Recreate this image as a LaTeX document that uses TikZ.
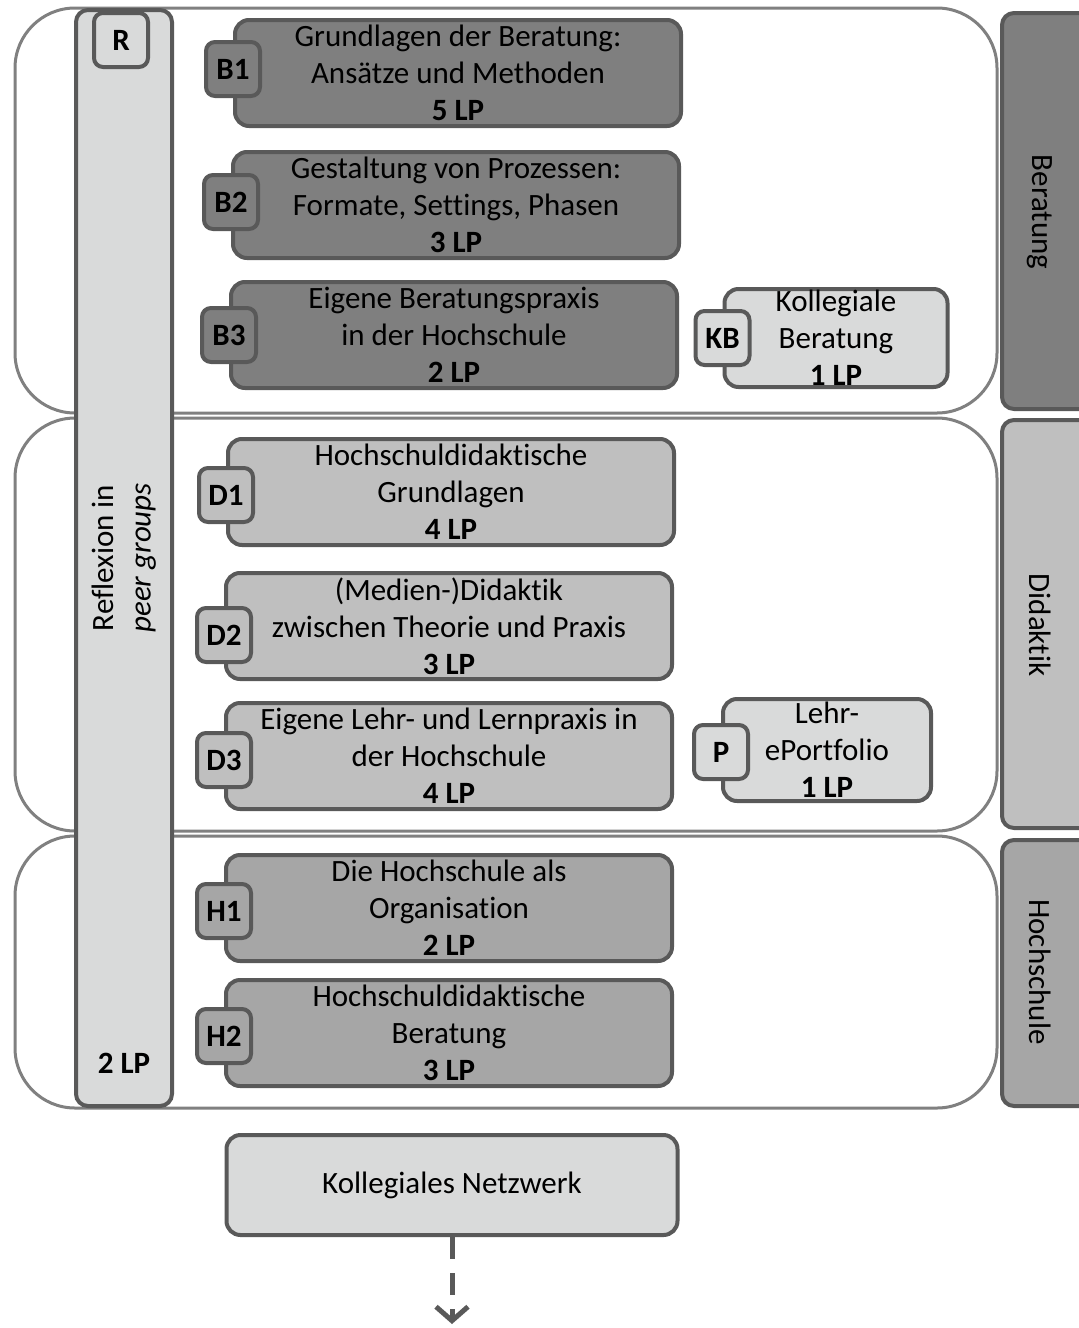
\documentclass[tikz,border=0pt]{standalone}
\usepackage{fontspec}
\setmainfont{Carlito}[Ligatures=CommonOff]
\usetikzlibrary{arrows.meta}

\definecolor{boxline}{HTML}{595959}
\definecolor{bandline}{HTML}{808080}
\definecolor{fillB}{HTML}{7F7F7F}
\definecolor{fillD}{HTML}{BFBFBF}
\definecolor{fillH}{HTML}{A6A6A6}
\definecolor{fillL}{HTML}{D9DADA}

\begin{document}
\begin{tikzpicture}[x=1pt, y=-1pt,
    font=\fontsize{31}{37}\selectfont,
    band/.style ={draw=bandline, line width=3pt, rounded corners=60pt, fill=white},
    column/.style ={draw=boxline, line width=4pt, rounded corners=12pt, fill=fillL, inner sep=0pt},
    tab/.style ={draw=boxline, line width=4pt, rounded corners=12pt, inner sep=0pt, minimum width=90pt},
    module/.style ={draw=boxline, line width=4pt, rounded corners=14pt, align=center, inner sep=0pt,
                    minimum width=446pt, minimum height=106pt},
    tag/.style ={draw=boxline, line width=4pt, rounded corners=9pt, inner sep=0pt, minimum size=54pt,
                 font=\fontsize{31}{37}\selectfont\bfseries},
    netlink/.style ={draw=boxline, line width=5pt, dash pattern=on 22pt off 14pt,
                     -{Straight Barb[length=14pt,width=32pt]}}]
   \useasboundingbox (0,0) rectangle (1079,1328);
   \draw[band] (15,8) rectangle (997,413);
   \draw[band] (15,418) rectangle (997,831);
   \draw[band] (15,836) rectangle (997,1108);

   \node[column, rotate=90, minimum width=1096pt, minimum height=96pt, align=center] (refl) at (124,558)
        {Reflexion in\\\textit{peer groups}};
   \node[tag, fill=fillL] (R) at (121,40) {R};
   \node[font=\fontsize{31}{37}\selectfont\bfseries] (reflLP) at (124,1063) {2 LP};

   \node[tab, fill=fillB, minimum height=396pt] (Ber) at (1047,211) {};
   \node[tab, fill=fillD, minimum height=408pt] (Did) at (1047,624) {};
   \node[tab, fill=fillH, minimum height=266pt] (Hoch) at (1047,973) {};
   \node[rotate=-90] (BerText) at (1040,212) {Beratung};
   \node[rotate=-90] (DidText) at (1040,625) {Didaktik};
   \node[rotate=-90] (HochText) at (1040,972) {Hochschule};

   \node[module, fill=fillB] (B1) at (458,73) {Grundlagen der Beratung:\\Ansätze und Methoden\\\textbf{5 LP}};
   \node[module, fill=fillB] (B2) at (456,205) {Gestaltung von Prozessen:\\Formate, Settings, Phasen\\\textbf{3 LP}};
   \node[module, fill=fillB] (B3) at (454,335) {Eigene Beratungspraxis\\in der Hochschule\\\textbf{2 LP}};
   \node[module, fill=fillL, minimum width=223pt, minimum height=98pt] (KB) at (836,338)
        {Kollegiale\\Beratung\\\textbf{1 LP}};
   \node[module, fill=fillD] (D1) at (451,492) {Hochschuldidaktische\\Grundlagen\\\textbf{4 LP}};
   \node[module, fill=fillD] (D2) at (449,626) {(Medien-)Didaktik\\zwischen Theorie und Praxis\\\textbf{3 LP}};
   \node[module, fill=fillD] (D3) at (449,756) {Eigene Lehr- und Lernpraxis in\\der Hochschule\\\textbf{4 LP}};
   \node[module, fill=fillL, minimum width=208pt, minimum height=102pt] (P) at (827,750)
        {Lehr-\\ePortfolio\\\textbf{1 LP}};
   \node[module, fill=fillH] (H1) at (449,908) {Die Hochschule als\\Organisation\\\textbf{2 LP}};
   \node[module, fill=fillH] (H2) at (449,1033) {Hochschuldidaktische\\Beratung\\\textbf{3 LP}};
   \node[module, fill=fillL, minimum width=451pt, minimum height=100pt] (KN) at (452,1185) {Kollegiales Netzwerk};

   \node[tag, fill=fillB] (tB1) at ([yshift=4pt]B1.west) {B1};
   \node[tag, fill=fillB] (tB2) at ([yshift=3pt]B2.west) {B2};
   \node[tag, fill=fillB] (tB3) at (B3.west) {B3};
   \node[tag, fill=fillL] (tKB) at (KB.west) {KB};
   \node[tag, fill=fillD] (tD1) at ([yshift=-3pt]D1.west) {D1};
   \node[tag, fill=fillD] (tD2) at ([yshift=-9pt]D2.west) {D2};
   \node[tag, fill=fillD] (tD3) at ([yshift=-4pt]D3.west) {D3};
   \node[tag, fill=fillL] (tP) at ([yshift=-2pt]P.west) {P};
   \node[tag, fill=fillH] (tH1) at ([yshift=-3pt]H1.west) {H1};
   \node[tag, fill=fillH] (tH2) at ([yshift=-3pt]H2.west) {H2};

   \coordinate (netEnd) at (452,1324);
   \draw[netlink] (KN) -- (netEnd);
 \end{tikzpicture}
\end{document}
